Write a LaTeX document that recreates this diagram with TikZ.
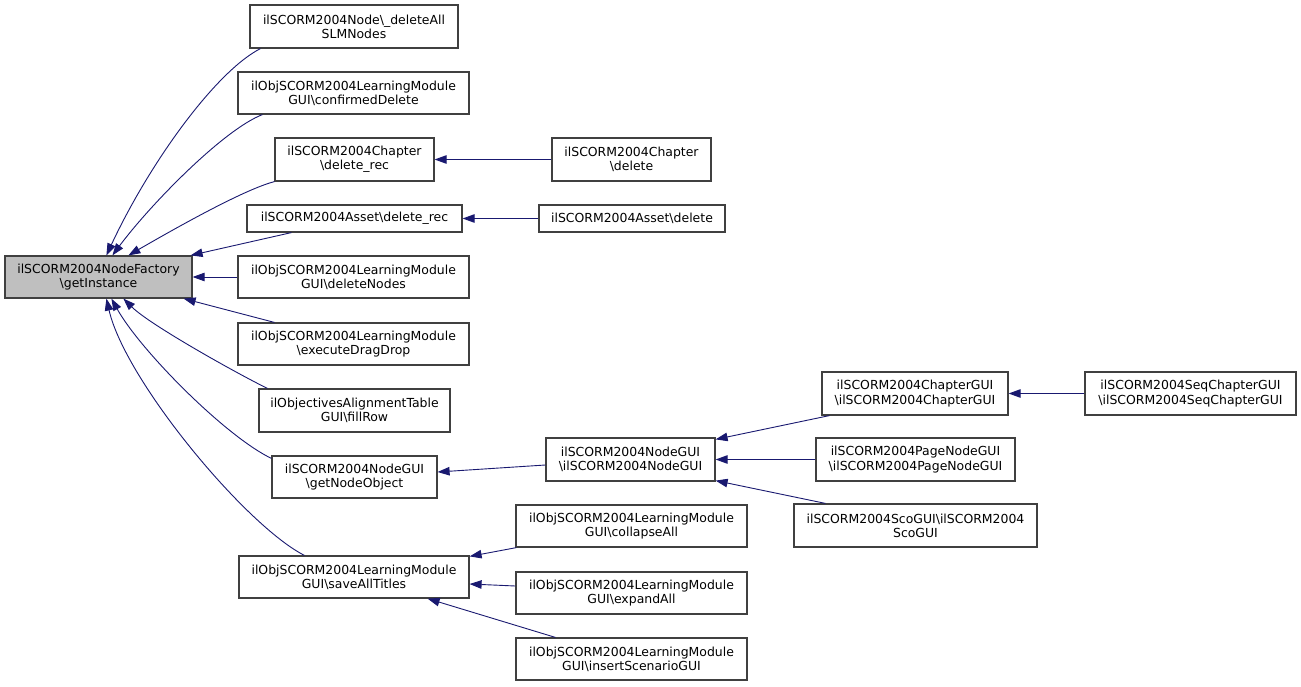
\documentclass[tikz,border=0pt]{standalone}
\usepackage{fontspec}
\setmainfont{DejaVu Sans}
\usetikzlibrary{arrows.meta}
\definecolor{edgeblue}{HTML}{191970}
\definecolor{rootgray}{HTML}{BFBFBF}
\newcommand{\BSL}{\textbackslash}
\tikzset{
  fn/.style 2 args={draw=black!75, line width=1.2pt, rectangle, inner sep=0pt, align=center,
    font=\fontsize{12.45}{14.2}\selectfont, minimum width=#1, minimum height=#2},
  call/.style={draw=edgeblue, line width=0.9pt, -{Triangle[length=12pt,width=8.5pt]}}
}
\begin{document}
\begin{tikzpicture}[x=1pt,y=-1pt]
\path[use as bounding box] (0,0) rectangle (1301,687);
% nodes
\node[fn={187pt}{42pt}, fill=rootgray] (root) at (98.5,277) {ilSCORM2004NodeFactory\\\BSL getInstance};
\node[fn={208pt}{43pt}] (n1) at (354,26.5) {ilSCORM2004Node\BSL\_deleteAll\\SLMNodes};
\node[fn={231pt}{42pt}] (n2) at (353.5,93) {ilObjSCORM2004LearningModule\\GUI\BSL confirmedDelete};
\node[fn={159pt}{43pt}] (n3) at (354.5,159.5) {ilSCORM2004Chapter\\\BSL delete\_rec};
\node[fn={215pt}{27pt}] (n4) at (354.5,218.5) {ilSCORM2004Asset\BSL delete\_rec};
\node[fn={231pt}{42pt}] (n5) at (353.5,277) {ilObjSCORM2004LearningModule\\GUI\BSL deleteNodes};
\node[fn={231pt}{42pt}] (n6) at (353.5,344) {ilObjSCORM2004LearningModule\\\BSL executeDragDrop};
\node[fn={191pt}{43pt}] (n7) at (354.5,410.5) {ilObjectivesAlignmentTable\\GUI\BSL fillRow};
\node[fn={165pt}{42pt}] (n8) at (354.5,477) {ilSCORM2004NodeGUI\\\BSL getNodeObject};
\node[fn={230pt}{42pt}] (n9) at (354,577) {ilObjSCORM2004LearningModule\\GUI\BSL saveAllTitles};
\node[fn={159pt}{43pt}] (n10) at (631.5,159.5) {ilSCORM2004Chapter\\\BSL delete};
\node[fn={186pt}{27pt}] (n11) at (632,218.5) {ilSCORM2004Asset\BSL delete};
\node[fn={169pt}{43pt}] (n12) at (630.5,459.5) {ilSCORM2004NodeGUI\\\BSL ilSCORM2004NodeGUI};
\node[fn={231pt}{42pt}] (n13) at (631.5,526) {ilObjSCORM2004LearningModule\\GUI\BSL collapseAll};
\node[fn={231pt}{42pt}] (n14) at (631.5,593) {ilObjSCORM2004LearningModule\\GUI\BSL expandAll};
\node[fn={231pt}{42pt}] (n15) at (631.5,659) {ilObjSCORM2004LearningModule\\GUI\BSL insertScenarioGUI};
\node[fn={186pt}{43pt}] (n16) at (915,393.5) {ilSCORM2004ChapterGUI\\\BSL ilSCORM2004ChapterGUI};
\node[fn={199pt}{43pt}] (n17) at (915.5,459.5) {ilSCORM2004PageNodeGUI\\\BSL ilSCORM2004PageNodeGUI};
\node[fn={243pt}{43pt}] (n18) at (915.5,525.5) {ilSCORM2004ScoGUI\BSL ilSCORM2004\\ScoGUI};
\node[fn={211pt}{43pt}] (n19) at (1190.5,393.5) {ilSCORM2004SeqChapterGUI\\\BSL ilSCORM2004SeqChapterGUI};
% edges
\draw[call] ([xshift=11pt]n1.south west) .. controls (215,72) and (149,164) .. ([xshift=102pt]root.north west);
\draw[call] ([xshift=25pt]n2.south west) .. controls (223,130) and (150,205) .. ([xshift=108pt]root.north west);
\draw[call] (n3.south west) .. controls (250,188) and (200,214) .. ([xshift=124pt]root.north west);
\draw[call] ([xshift=45pt]n4.south west) -- ([xshift=-2pt]root.north east);
\draw[call] (n5.west) -- (root.east);
\draw[call] ([xshift=37pt]n6.north west) -- ([xshift=-9pt]root.south east);
\draw[call] ([xshift=9pt]n7.north west) .. controls (238,374) and (150,325) .. ([xshift=119pt]root.south west);
\draw[call] ([yshift=-3pt]n8.north west) .. controls (225,436) and (140,350) .. ([xshift=107pt]root.south west);
\draw[call] ([xshift=66pt]n9.north west) .. controls (245,525) and (125,380) .. ([xshift=102pt]root.south west);
\draw[call] (n10.west) -- (n3.east);
\draw[call] (n11.west) -- (n4.east);
\draw[call] ([yshift=-5.5pt]n12.west) -- ([yshift=5pt]n8.east);
\draw[call] ([xshift=8pt]n16.south west) -- ([yshift=-2pt]n12.north east);
\draw[call] (n17.west) -- (n12.east);
\draw[call] ([xshift=32pt]n18.north west) -- ([yshift=1pt]n12.south east);
\draw[call] (n19.west) -- (n16.east);
\draw[call] ([xshift=1pt]n13.south west) -- ([yshift=-1pt]n9.north east);
\draw[call] ([yshift=7pt]n14.west) -- ([yshift=-7pt]n9.east);
\draw[call] ([xshift=40pt]n15.north west) -- ([xshift=-42pt]n9.south east);
\end{tikzpicture}
\end{document}
